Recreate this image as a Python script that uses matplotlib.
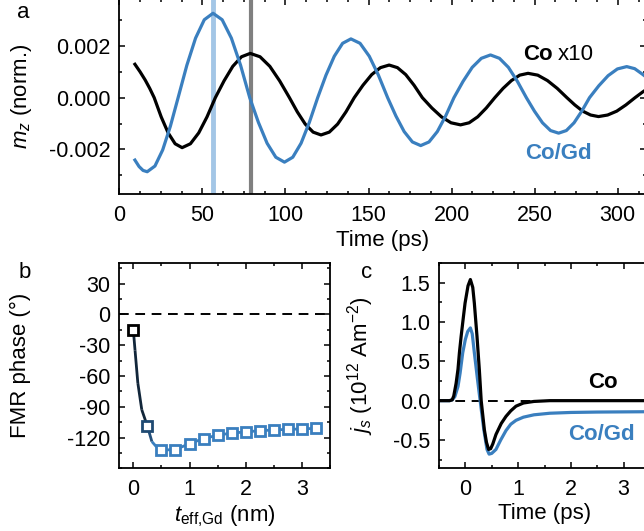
import matplotlib
matplotlib.use("Agg")
import matplotlib.pyplot as plt
from matplotlib.ticker import MultipleLocator, FormatStrFormatter
from matplotlib.collections import LineCollection
import numpy as np

plt.rcParams['font.family'] = ['Liberation Sans', 'DejaVu Sans']
plt.rcParams['font.size'] = 15.5
plt.rcParams['mathtext.fontset'] = 'custom'
plt.rcParams['mathtext.rm'] = 'Liberation Sans'
plt.rcParams['mathtext.it'] = 'Liberation Sans:italic'
plt.rcParams['mathtext.bf'] = 'Liberation Sans:bold'
plt.rcParams['axes.unicode_minus'] = False
plt.rcParams['axes.linewidth'] = 1.3
for ax_ in ('xtick', 'ytick'):
    plt.rcParams[ax_ + '.direction'] = 'in'
    plt.rcParams[ax_ + '.major.size'] = 4.5
    plt.rcParams[ax_ + '.minor.size'] = 2.5
    plt.rcParams[ax_ + '.major.width'] = 1.1
    plt.rcParams[ax_ + '.minor.width'] = 1.1
plt.rcParams['xtick.major.pad'] = 8
plt.rcParams['ytick.major.pad'] = 6.5
plt.rcParams['xtick.top'] = True
plt.rcParams['ytick.right'] = True

BLUE = '#3a7fbf'

# (a) FMR precession, m_z in units of 1e-3 (Co trace scaled x10)
t_co = [9.4, 12.5, 15.6, 18.3, 21.0, 25.2, 29.4, 33.6, 37.8, 42.8, 47.8, 52.8,
        57.8, 63.05, 68.3, 73.55, 78.8, 84.7, 90.6, 96.5, 102.4, 107.15, 111.9,
        116.65, 121.4, 126.4, 131.4, 136.4, 141.4, 146.65, 151.9, 157.15, 162.4,
        167.4, 172.4, 177.4, 182.4, 188.15, 193.9, 199.65, 205.4, 210.55, 215.7,
        220.85, 226.0, 231.0, 236.0, 241.0, 246.0, 251.85, 257.7, 263.55, 269.4,
        274.15, 278.9, 283.65, 288.4, 293.9, 299.4, 304.9, 310.4, 315.0, 318.0]
mz_co = [1.29, 1.00, 0.68, 0.36, 0.0, -0.74, -1.36, -1.78, -1.93, -1.78, -1.36, -0.74,
         0.0, 0.65, 1.21, 1.58, 1.71, 1.58, 1.21, 0.65, 0.0, -0.55, -1.02,
         -1.33, -1.44, -1.33, -1.02, -0.55, 0.0, 0.48, 0.89, 1.16, 1.26,
         1.16, 0.89, 0.48, 0.0, -0.40, -0.74, -0.97, -1.05, -0.97, -0.74,
         -0.40, 0.0, 0.36, 0.66, 0.87, 0.94, 0.87, 0.66, 0.36, 0.0,
         -0.28, -0.52, -0.67, -0.73, -0.67, -0.52, -0.28, 0.0, 0.22, 0.35]
t_cogd = [9.4, 11.9, 14.3, 16.8, 21.45, 26.1, 30.75, 35.4, 40.65, 45.9, 51.15, 56.4,
          61.9, 67.45, 73.0, 78.5, 83.7, 88.95, 94.2, 99.4, 104.4, 109.4, 114.4,
          119.4, 124.4, 129.4, 134.4, 139.4, 144.9, 150.45, 155.95, 161.5, 166.5,
          171.45, 176.4, 181.4, 186.4, 191.4, 196.4, 201.4, 206.9, 212.4, 217.9,
          223.4, 228.8, 234.2, 239.6, 245.0, 249.85, 254.7, 259.55, 264.4, 269.05,
          273.7, 278.35, 283.0, 288.6, 294.2, 299.8, 305.4, 310.2, 315.0, 318.0]
mz_cogd = [-2.41, -2.66, -2.81, -2.86, -2.64, -2.02, -1.10, 0.0, 1.25, 2.30, 3.01, 3.26,
           3.01, 2.30, 1.25, 0.0, -0.95, -1.76, -2.30, -2.49, -2.30, -1.76, -0.95,
           0.0, 0.87, 1.60, 2.10, 2.27, 2.10, 1.60, 0.87, 0.0, -0.71,
           -1.31, -1.71, -1.85, -1.71, -1.31, -0.71, 0.0, 0.63, 1.17, 1.52,
           1.65, 1.52, 1.17, 0.63, 0.0, -0.52, -0.97, -1.27, -1.37, -1.27,
           -0.97, -0.52, 0.0, 0.46, 0.85, 1.11, 1.20, 1.12, 0.90, 0.75]
peak_cogd = 56.6
peak_co = 79.4

# (b) FMR phase vs effective Gd thickness
t_gd = [0.0, 0.25, 0.5, 0.75, 1.0, 1.25, 1.5, 1.75, 2.0, 2.25, 2.5, 2.75, 3.0, 3.25]
phase = [-15.4, -109, -132.3, -131.7, -126, -121, -117.8, -115.6, -114.6, -113.3,
         -112.7, -112, -111.7, -111]
fit_t = [0.0, 0.03, 0.08, 0.15, 0.25, 0.33, 0.41, 0.5, 0.75, 1.0, 1.25, 1.5, 1.75,
         2.0, 2.25, 2.5, 2.75, 3.0, 3.25]
fit_phase = [-15.4, -35, -67, -93, -109, -124, -129, -132.3, -131.7, -126, -121,
             -117.8, -115.6, -114.6, -113.3, -112.7, -112, -111.7, -111]
marker_edge = ['black', '#1f4a72'] + [BLUE] * 12

# (c) spin current pulses
tc_co = [-0.5, -0.3, -0.25, -0.22, -0.176, -0.14, -0.113, -0.08, -0.04, -0.006, 0.05,
         0.095, 0.14, 0.17, 0.22, 0.265, 0.30, 0.36, 0.40, 0.44, 0.48, 0.52, 0.58,
         0.68, 0.77, 0.86, 0.96, 1.1, 1.3, 1.6, 2.0, 3.6]
js_co = [0, 0, 0.01, 0.06, 0.22, 0.40, 0.61, 0.82, 1.05, 1.24, 1.46,
         1.54, 1.44, 1.24, 0.82, 0.39, 0.0, -0.37, -0.53, -0.62, -0.61, -0.55, -0.43,
         -0.29, -0.20, -0.13, -0.07, -0.03, -0.01, 0.0, 0.0, 0.0]
tc_cogd = [-0.5, -0.3, -0.25, -0.2, -0.14, -0.1, -0.05, 0.0, 0.045, 0.095, 0.13, 0.17,
           0.23, 0.28, 0.35, 0.41, 0.45, 0.50, 0.58, 0.67, 0.77, 0.86, 0.96, 1.1, 1.3,
           1.6, 2.0, 2.5, 3.6]
js_cogd = [0, 0, 0.01, 0.05, 0.18, 0.35, 0.61, 0.78, 0.88, 0.925, 0.85, 0.61,
           0.27, 0.0, -0.37, -0.62, -0.68, -0.67, -0.62, -0.50, -0.38, -0.30, -0.25,
           -0.21, -0.18, -0.16, -0.15, -0.145, -0.14]

fig = plt.figure(figsize=(6.44, 5.31), dpi=100)
W, H = 644.0, 531.0


def box(left, top, right, bottom):
    return [left / W, 1 - bottom / H, (right - left) / W, (bottom - top) / H]


# ---- panel a
ax_a = fig.add_axes(box(119.3, -1.5, 646, 194))
ax_a.axvline(peak_cogd, color='#a3c6e6', lw=3.5, zorder=1)
ax_a.axvline(peak_co, color='#808080', lw=3.0, zorder=1)
ax_a.plot(t_co, np.array(mz_co) * 1e-3, color='black', lw=2.3, zorder=3)
ax_a.plot(t_cogd, np.array(mz_cogd) * 1e-3, color=BLUE, lw=2.3, zorder=3)
ax_a.set_xlim(0, 317)
ax_a.set_ylim(-0.00372, 0.00383)
ax_a.set_xticks([0, 50, 100, 150, 200, 250, 300])
ax_a.xaxis.set_minor_locator(MultipleLocator(12.5))
ax_a.set_yticks([-0.002, 0.0, 0.002])
ax_a.yaxis.set_minor_locator(MultipleLocator(0.001))
ax_a.yaxis.set_major_formatter(FormatStrFormatter('%.3f'))
ax_a.set_xlabel('Time (ps)', fontsize=16, labelpad=3)
ax_a.set_ylabel('$m_z$ (norm.)', fontsize=16)
ax_a.yaxis.set_label_coords(-0.162, 0.5)
ax_a.text(242.8, 0.00165, 'Co', fontsize=16, fontweight='bold', va='center')
ax_a.text(263.8, 0.00165, 'x10', fontsize=16, va='center')
ax_a.text(244, -0.00214, 'Co/Gd', fontsize=16, fontweight='bold', color=BLUE,
          va='center')

# ---- panel b
ax_b = fig.add_axes(box(119.3, 263, 330, 468.3))
ax_b.axhline(0, color='black', lw=1.4, ls=(0, (5, 3.4)), zorder=1)
pts = np.column_stack([fit_t, fit_phase])
segs = [pts[i:i + 2] for i in range(len(pts) - 1)]
seg_colors = []
for i in range(len(segs)):
    mid = 0.5 * (fit_t[i] + fit_t[i + 1])
    if mid < 0.25:
        seg_colors.append('#12263a')
    elif mid < 0.33:
        seg_colors.append('#24507c')
    else:
        seg_colors.append(BLUE)
ax_b.add_collection(LineCollection(segs, colors=seg_colors, linewidths=2.0, zorder=2))
for x, y, ec in zip(t_gd, phase, marker_edge):
    ax_b.plot(x, y, marker='s', ms=7.5, mfc='white', mec=ec, mew=2.0, zorder=3)
ax_b.set_xlim(-0.25, 3.5)
ax_b.set_ylim(-150, 50)
ax_b.set_xticks([0, 1, 2, 3])
ax_b.xaxis.set_minor_locator(MultipleLocator(0.5))
ax_b.set_yticks([-120, -90, -60, -30, 0, 30])
ax_b.yaxis.set_minor_locator(MultipleLocator(15))
ax_b.set_xlabel(r'$t_{\mathrm{eff{,}Gd}}$ (nm)', fontsize=16, labelpad=2)
ax_b.set_ylabel('FMR phase (°)', fontsize=16)
ax_b.yaxis.set_label_coords(-0.42, 0.5)

# ---- panel c
ax_c = fig.add_axes(box(439, 263, 650, 468.3))
ax_c.axhline(0, color='black', lw=1.4, ls=(0, (5, 3.4)), zorder=1)
ax_c.plot(tc_co, js_co, color='black', lw=2.3, zorder=3)
ax_c.plot(tc_cogd, js_cogd, color=BLUE, lw=2.3, zorder=2)
ax_c.set_xlim(-0.5, 3.5)
ax_c.set_ylim(-0.86, 1.75)
ax_c.set_xticks([0, 1, 2, 3])
ax_c.xaxis.set_minor_locator(MultipleLocator(0.5))
ax_c.set_yticks([-0.5, 0.0, 0.5, 1.0, 1.5])
ax_c.yaxis.set_minor_locator(MultipleLocator(0.25))
ax_c.yaxis.set_major_formatter(FormatStrFormatter('%.1f'))
ax_c.set_xlabel('Time (ps)', fontsize=16, labelpad=2)
ax_c.set_ylabel(r'$j_s$ (10$^{12}$ Am$^{-2}$)', fontsize=16)
ax_c.yaxis.set_label_coords(-0.30, 0.5)
ax_c.text(2.32, 0.23, 'Co', fontsize=16, fontweight='bold', va='center')
ax_c.text(1.94, -0.43, 'Co/Gd', fontsize=16, fontweight='bold', color=BLUE,
          va='center')

# panel letters
fig.text(23 / W, 1 - 12 / H, 'a', fontsize=16, ha='center', va='center')
fig.text(25 / W, 1 - 272 / H, 'b', fontsize=16, ha='center', va='center')
fig.text(367 / W, 1 - 273 / H, 'c', fontsize=16, ha='center', va='center')

fig.savefig('out.png', dpi=100)
